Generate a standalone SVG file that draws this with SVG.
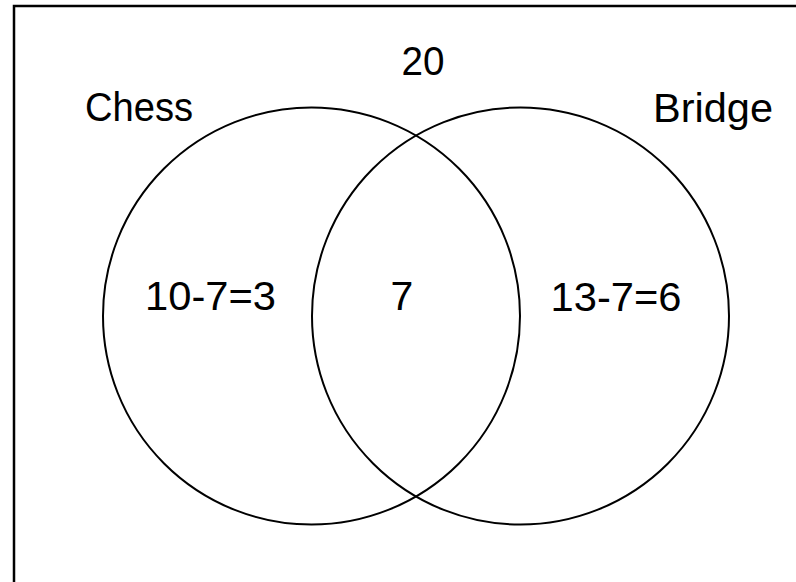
<svg xmlns="http://www.w3.org/2000/svg" width="796" height="582" viewBox="0 0 796 582">
<style>
.frame{fill:none;stroke:#000;stroke-width:2.5}
.set{fill:none;stroke:#000;stroke-width:2}
text{font-family:"Liberation Sans",Arial,sans-serif;font-size:41px;fill:#000;text-anchor:middle}
</style>
<rect width="796" height="582" fill="#fff"/>
<rect class="frame" x="14" y="6" width="800" height="600"/>
<g id="universe"><text x="423" y="75" textLength="43" lengthAdjust="spacingAndGlyphs">20</text></g>
<g id="chess">
<circle class="set" cx="311.5" cy="316" r="208.5"/>
<text x="139" y="121" textLength="108" lengthAdjust="spacingAndGlyphs">Chess</text>
<text x="210.5" y="310" textLength="131" lengthAdjust="spacingAndGlyphs">10-7=3</text>
</g>
<g id="bridge">
<circle class="set" cx="520.5" cy="316" r="208.5"/>
<text x="713" y="122" textLength="120" lengthAdjust="spacingAndGlyphs">Bridge</text>
<text x="616" y="311" textLength="131" lengthAdjust="spacingAndGlyphs">13-7=6</text>
</g>
<g id="intersection"><text x="402" y="310">7</text></g>
<g id="connectors"></g>
</svg>
